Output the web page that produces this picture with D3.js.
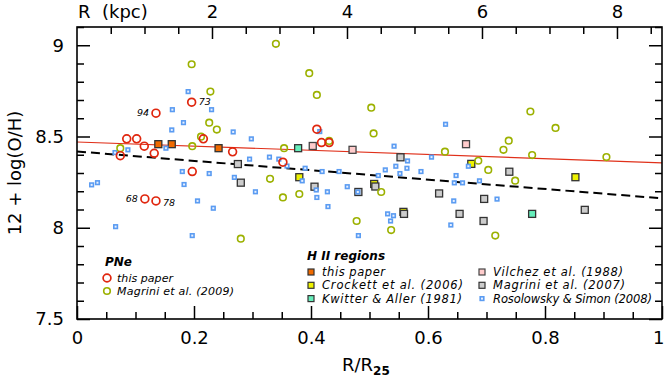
<!DOCTYPE html>
<html>
<head>
<meta charset="utf-8">
<script src="https://cdn.jsdelivr.net/npm/d3@7"></script>
<style>
body { margin: 0; background: #fff; }
svg { display: block; }
text { font-family: "DejaVu Sans", sans-serif; }
</style>
</head>
<body>
<svg width="664" height="381"></svg>
<script>
// PNe, this paper (R/R25, 12+log(O/H))
var pneThisPaper = [
    [0.135, 8.628], [0.196, 8.688], [0.085, 8.487], [0.102, 8.487], [0.115, 8.447],
    [0.074, 8.395], [0.132, 8.408], [0.197, 8.308], [0.116, 8.158], [0.135, 8.147],
    [0.216, 8.487], [0.266, 8.416], [0.352, 8.359], [0.410, 8.540], [0.418, 8.467],
    [0.431, 8.467]
];
var pneIds = ["94", "73", "", "", "", "", "", "", "68", "78", "", "", "", "", "", ""];

// PNe, Magrini et al. (2009)
var pneMagrini = [
    [0.196, 8.896], [0.074, 8.436], [0.197, 8.447], [0.212, 8.499], [0.340, 9.008],
    [0.397, 8.847], [0.410, 8.728], [0.228, 8.746], [0.226, 8.576], [0.239, 8.538],
    [0.354, 8.436], [0.330, 8.268], [0.352, 8.166], [0.380, 8.185], [0.280, 7.940],
    [0.503, 8.658], [0.507, 8.517], [0.431, 8.476], [0.520, 8.196], [0.478, 8.037],
    [0.537, 7.987], [0.775, 8.637], [0.818, 8.547], [0.738, 8.477], [0.729, 8.427],
    [0.629, 8.417], [0.778, 8.398], [0.686, 8.367], [0.703, 8.317], [0.749, 8.258],
    [0.715, 7.957], [0.905, 8.387]
];

// H II regions
var hiiThisPaper = [[0.139, 8.458], [0.162, 8.458], [0.242, 8.436]];
var hiiCrockett = [[0.380, 8.277], [0.508, 8.240], [0.558, 8.087], [0.674, 8.350], [0.852, 8.277]];
var hiiKwitter = [[0.378, 8.436], [0.778, 8.076]];
var hiiVilchez = [[0.403, 8.448], [0.471, 8.427], [0.665, 8.458]];
var hiiMagrini = [
    [0.275, 8.349], [0.280, 8.247], [0.406, 8.225], [0.481, 8.196], [0.510, 8.226],
    [0.553, 8.386], [0.559, 8.076], [0.619, 8.188], [0.654, 8.076], [0.696, 8.158],
    [0.695, 8.037], [0.739, 8.307], [0.868, 8.098]
];
var hiiRosolowsky = [
    [0.190, 8.746], [0.163, 8.647], [0.230, 8.647], [0.182, 8.576], [0.162, 8.536],
    [0.267, 8.525], [0.298, 8.487], [0.152, 8.436], [0.087, 8.427], [0.065, 8.412],
    [0.329, 8.387], [0.295, 8.376], [0.345, 8.376], [0.359, 8.338], [0.390, 8.326],
    [0.180, 8.308], [0.226, 8.297], [0.269, 8.276], [0.385, 8.257], [0.183, 8.237],
    [0.035, 8.247], [0.025, 8.235], [0.305, 8.197], [0.206, 8.147], [0.233, 8.107],
    [0.066, 8.006], [0.197, 7.957], [0.415, 8.527], [0.542, 8.447], [0.606, 8.387],
    [0.565, 8.366], [0.545, 8.337], [0.564, 8.326], [0.527, 8.317], [0.588, 8.308],
    [0.419, 8.308], [0.448, 8.308], [0.552, 8.297], [0.515, 8.286], [0.462, 8.225],
    [0.409, 8.207], [0.428, 8.197], [0.410, 8.166], [0.429, 8.116], [0.531, 8.076],
    [0.541, 8.066], [0.536, 8.037], [0.481, 7.957], [0.630, 8.567], [0.648, 8.286],
    [0.645, 8.246], [0.659, 8.246], [0.688, 8.257], [0.669, 8.337], [0.644, 8.147],
    [0.718, 8.157], [0.639, 8.015], [0.480, 8.196]
];

// gradient fits
var pneFit = [[0, 8.47], [1, 8.356]];
var hiiFit = [[0, 8.418], [1, 8.161]];

var xTicks = [0, 0.2, 0.4, 0.6, 0.8, 1];
var yTicks = [7.5, 8, 8.5, 9];
var kpcTicks = [2, 4, 6, 8];
var kpcMax = 8.667; // R25 in kpc

var pl = 77, pr = 662, pt = 27, pb = 319;

var svg = d3.select("svg");

var x = d3.scaleLinear().domain([0, 1]).range([pl, pr]);
var y = d3.scaleLinear().domain([7.5, 9.1]).range([pb, pt]);
var xk = d3.scaleLinear().domain([0, kpcMax]).range([pl, pr]);

// fit lines
var line = d3.line()
    .x(function (d) { return x(d[0]); })
    .y(function (d) { return y(d[1]); });

svg.append("path").datum(pneFit)
    .attr("fill", "none").attr("stroke", "#e0301a").attr("stroke-width", 1.2)
    .attr("d", line);
svg.append("path").datum(hiiFit)
    .attr("fill", "none").attr("stroke", "#000").attr("stroke-width", 2)
    .attr("stroke-dasharray", "9,5")
    .attr("d", line);

function squares(data, size, fill, stroke, sw) {
    svg.append("g").selectAll("rect")
        .data(data).enter()
        .append("rect")
        .attr("x", function (d) { return x(d[0]) - size / 2; })
        .attr("y", function (d) { return y(d[1]) - size / 2; })
        .attr("width", size).attr("height", size)
        .attr("fill", fill).attr("stroke", stroke).attr("stroke-width", sw);
}
function circles(data, r, color, sw) {
    svg.append("g").selectAll("circle")
        .data(data).enter()
        .append("circle")
        .attr("cx", function (d) { return x(d[0]); })
        .attr("cy", function (d) { return y(d[1]); })
        .attr("r", r)
        .attr("fill", "none").attr("stroke", color).attr("stroke-width", sw);
}

var cOrange = "#f06a00", cYellow = "#eef200", cTeal = "#66eebb", cPink = "#ffcccc",
    cGrey = "#cccccc", cBlue = "#5b9cf2", cRed = "#e0260e", cGreen = "#9cb100";

squares(hiiThisPaper, 7, cOrange, "#333", 1.3);
squares(hiiCrockett, 7, cYellow, "#333", 1.3);
squares(hiiKwitter, 7, cTeal, "#333", 1.3);
squares(hiiVilchez, 7, cPink, "#444", 1.3);
squares(hiiMagrini, 7, cGrey, "#333", 1.3);
squares(hiiRosolowsky, 3.6, "#e8f0ff", cBlue, 1.6);
circles(pneMagrini, 3.3, cGreen, 1.6);
circles(pneThisPaper, 3.9, cRed, 1.7);

// PN ids
svg.append("g").selectAll("text")
    .data(pneThisPaper.map(function (d, i) { return {d: d, id: pneIds[i]}; })
        .filter(function (o) { return o.id !== ""; }))
    .enter().append("text")
    .attr("x", function (o) { return x(o.d[0]); })
    .attr("y", function (o) { return y(o.d[1]); })
    .attr("dx", function (o) { return (o.id === "94" || o.id === "68") ? -7 : 7; })
    .attr("dy", function (o) { return o.id === "78" ? 5 : 3; })
    .attr("text-anchor", function (o) { return (o.id === "94" || o.id === "68") ? "end" : "start"; })
    .attr("font-size", 9.5).attr("font-style", "italic")
    .text(function (o) { return o.id; });

// axes
function minor(step, lo, hi, majors) {
    return d3.range(lo, hi + 1e-9, step).filter(function (v) {
        return !majors.some(function (m) { return Math.abs(m - v) < 1e-6; });
    });
}

var axes = svg.append("g");

var bottomAxis = axes.append("g").attr("transform", "translate(0," + pb + ")")
    .call(d3.axisBottom(x).tickValues(xTicks).tickSize(-13).tickPadding(12)
        .tickFormat(function (d) { return d === 0 || d === 1 ? d : d3.format(".1f")(d); }));
axes.append("g").attr("transform", "translate(0," + pb + ")")
    .call(d3.axisBottom(x).tickValues(minor(0.05, 0, 1, xTicks)).tickSize(-7).tickFormat(""));

axes.append("g").attr("transform", "translate(" + pl + ",0)")
    .call(d3.axisLeft(y).tickValues(yTicks).tickSize(-13).tickPadding(13)
        .tickFormat(function (d) { return d % 1 === 0 ? d : d3.format(".1f")(d); }));
axes.append("g").attr("transform", "translate(" + pl + ",0)")
    .call(d3.axisLeft(y).tickValues(minor(0.1, 7.5, 9.1, yTicks)).tickSize(-7).tickFormat(""));

axes.append("g").attr("transform", "translate(" + pr + ",0)")
    .call(d3.axisRight(y).tickValues(yTicks).tickSize(-13).tickFormat(""));
axes.append("g").attr("transform", "translate(" + pr + ",0)")
    .call(d3.axisRight(y).tickValues(minor(0.1, 7.5, 9.1, yTicks)).tickSize(-7).tickFormat(""));

axes.append("g").attr("transform", "translate(0," + pt + ")")
    .call(d3.axisTop(xk).tickValues(kpcTicks).tickSize(-12).tickPadding(9).tickFormat(d3.format("d")));
axes.append("g").attr("transform", "translate(0," + pt + ")")
    .call(d3.axisTop(xk).tickValues(minor(0.5, 0.5, 8.5, kpcTicks)).tickSize(-7).tickFormat(""));

axes.selectAll(".domain").remove();
axes.selectAll(".tick line").attr("stroke", "#000").attr("stroke-width", 1.5);
axes.selectAll(".tick text").attr("font-size", 18).attr("font-family", "DejaVu Sans").attr("fill", "#000");
// keep the last label inside the window
bottomAxis.selectAll(".tick text").filter(function (d) { return d === 1; })
    .attr("text-anchor", "end").attr("dx", 2);

svg.append("rect")
    .attr("x", pl).attr("y", pt)
    .attr("width", pr - pl).attr("height", pb - pt)
    .attr("fill", "none").attr("stroke", "#000").attr("stroke-width", 1.6);

// titles
svg.append("text")
    .attr("x", pl + 1).attr("y", 18)
    .attr("font-size", 18)
    .attr("xml:space", "preserve")
    .text("R  (kpc)");

svg.append("text")
    .attr("transform", "translate(21," + ((pt + pb) / 2) + ") rotate(-90)")
    .attr("text-anchor", "middle")
    .attr("font-size", 18)
    .text("12 + log(O/H)");

var xt = svg.append("text")
    .attr("x", 342).attr("y", 371)
    .attr("font-size", 18);
xt.append("tspan").text("R/R");
xt.append("tspan").attr("font-size", 12).attr("font-weight", "bold").attr("dy", 4).text("25");

// legend
var leg = svg.append("g").attr("font-style", "italic");

leg.append("text").attr("x", 105).attr("y", 266)
    .attr("font-weight", "bold").attr("font-size", 12).text("PNe");
// label, colour, radius, stroke width, text width
var pneLegend = [["this paper", cRed, 3.9, 1.7, 56], ["Magrini et al. (2009)", cGreen, 3.3, 1.6, 117]];
pneLegend.forEach(function (e, i) {
    var yy = 278 + i * 13;
    leg.append("circle").attr("cx", 107).attr("cy", yy).attr("r", e[2])
        .attr("fill", "none").attr("stroke", e[1]).attr("stroke-width", e[3]);
    leg.append("text").attr("x", 117).attr("y", yy + 4)
        .attr("font-size", 11).attr("textLength", e[4]).attr("lengthAdjust", "spacing")
        .text(e[0]);
});

leg.append("text").attr("x", 307).attr("y", 260)
    .attr("font-weight", "bold").attr("font-size", 12).text("H II regions");
// label, fill, stroke, column, row, text width
var hiiLegend = [
    ["this paper", cOrange, "#333", 0, 0, 63],
    ["Crockett et al. (2006)", cYellow, "#333", 0, 1, 141],
    ["Kwitter & Aller (1981)", cTeal, "#333", 0, 2, 140],
    ["Vilchez et al. (1988)", cPink, "#444", 1, 0, 130],
    ["Magrini et al. (2007)", cGrey, "#333", 1, 1, 132],
    ["Rosolowsky & Simon (2008)", "#e8f0ff", cBlue, 1, 2, 159]
];
hiiLegend.forEach(function (e) {
    var xx = e[3] === 0 ? 311 : 482;
    var yy = 272 + e[4] * 13.3;
    var small = e[3] === 1 && e[4] === 2;
    var s = small ? 3.6 : 6;
    leg.append("rect").attr("x", xx - s / 2).attr("y", yy - s / 2)
        .attr("width", s).attr("height", s)
        .attr("fill", e[1]).attr("stroke", e[2]).attr("stroke-width", small ? 1.6 : 1.2);
    leg.append("text").attr("x", xx + 11).attr("y", yy + 4)
        .attr("font-size", 11.5).attr("textLength", e[5]).attr("lengthAdjust", "spacing")
        .text(e[0]);
});
</script>
</body>
</html>
